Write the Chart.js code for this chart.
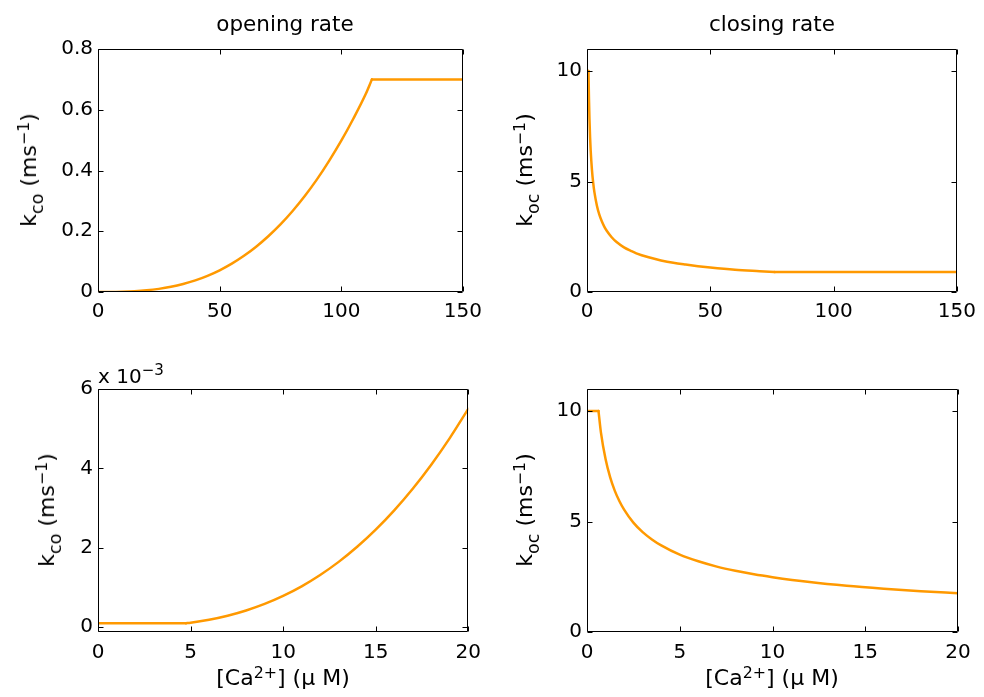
<!DOCTYPE html>
<html>
<head>
<meta charset="utf-8">
<script src="https://cdn.jsdelivr.net/npm/chart.js@4.4.1/dist/chart.umd.min.js"></script>
<style>
  html, body { margin: 0; padding: 0; background: #fff; }
  body { width: 984px; height: 697px; position: relative; overflow: hidden; font-family: "DejaVu Sans", sans-serif; color: #000; }
  canvas { position: absolute; }
  .t { position: absolute; white-space: nowrap; line-height: 1; }
  .c { transform: translateX(-50%); }
  .r { transform: translate(-50%, -50%) rotate(-90deg); }
  .sub { font-size: 0.8em; position: relative; top: 0.42em; }
  .sup { font-size: 0.72em; position: relative; top: -0.45em; }
</style>
</head>
<body>
<canvas id="tl" width="490" height="345" style="left:0;top:0"></canvas>
<canvas id="tr" width="494" height="345" style="left:490px;top:0"></canvas>
<canvas id="bl" width="490" height="352" style="left:0;top:345px"></canvas>
<canvas id="br" width="494" height="352" style="left:490px;top:345px"></canvas>

<div class="t c" style="left:285px;top:13px;font-size:21.5px">opening rate</div>
<div class="t c" style="left:772px;top:13px;font-size:21.5px">closing rate</div>

<div class="t r" style="left:29px;top:170px;font-size:22px">k<span class="sub">co</span> (ms<span class="sup">−1</span>)</div>
<div class="t r" style="left:525px;top:170px;font-size:22px">k<span class="sub">oc</span> (ms<span class="sup">−1</span>)</div>
<div class="t r" style="left:47px;top:510px;font-size:22px">k<span class="sub">co</span> (ms<span class="sup">−1</span>)</div>
<div class="t r" style="left:525px;top:510px;font-size:22px">k<span class="sub">oc</span> (ms<span class="sup">−1</span>)</div>

<div class="t c" style="left:283px;top:667px;font-size:22px">[Ca<span class="sup">2+</span>] (μ M)</div>
<div class="t c" style="left:772px;top:667px;font-size:22px">[Ca<span class="sup">2+</span>] (μ M)</div>

<div class="t" style="left:98px;top:366px;font-size:20px">x 10<span class="sup" style="font-size:0.75em;top:-0.55em">−3</span></div>

<script>
// ---- data ----
// top-left: opening rate, full range
const openFullX = [0, 5, 10, 15, 20, 25, 30, 35, 40, 45, 50, 55, 60, 65, 70, 75, 80, 85, 90, 95, 100, 105, 110, 112.6, 120, 130, 140, 150];
const openFullY = [0.0001, 0.00011, 0.00079, 0.00246, 0.0055, 0.0103, 0.0171, 0.0264, 0.0383, 0.0533, 0.0715, 0.0934, 0.1192, 0.1492, 0.1836, 0.2226, 0.2668, 0.316, 0.3707, 0.4317, 0.498, 0.5713, 0.651, 0.70, 0.70, 0.70, 0.70, 0.70];
// top-right: closing rate, full range
const closeFullX = [0, 0.6, 0.8, 1, 1.25, 1.5, 2, 2.5, 3, 4, 5, 6, 7, 8, 10, 12, 15, 18, 20, 25, 30, 35, 40, 45, 50, 60, 70, 76, 100, 125, 150];
const closeFullY = [10, 10, 8.75, 7.83, 7.0, 6.39, 5.54, 4.95, 4.52, 3.92, 3.5, 3.2, 2.96, 2.77, 2.48, 2.26, 2.02, 1.85, 1.75, 1.57, 1.43, 1.32, 1.24, 1.17, 1.11, 1.01, 0.94, 0.9, 0.9, 0.9, 0.9];
// bottom-left: opening rate, 0-20 uM
const openZoomX = [0, 4.75, 5, 6, 7, 8, 9, 10, 11, 12, 13, 14, 15, 16, 17, 18, 19, 20];
const openZoomY = [0.0001, 0.0001, 0.000113, 0.000189, 0.000291, 0.000423, 0.000588, 0.00079, 0.001031, 0.001316, 0.001646, 0.002026, 0.002458, 0.002945, 0.003489, 0.004095, 0.004764, 0.0055];
// bottom-right: closing rate, 0-20 uM
const closeZoomX = [0, 0.62, 0.75, 1, 1.25, 1.5, 1.75, 2, 2.5, 3, 3.5, 4, 5, 6, 7, 8, 9, 10, 12, 14, 16, 18, 20];
const closeZoomY = [10, 10, 9.04, 7.83, 7.0, 6.39, 5.92, 5.54, 4.95, 4.52, 4.19, 3.92, 3.5, 3.2, 2.96, 2.77, 2.61, 2.48, 2.26, 2.09, 1.96, 1.85, 1.75];

// indices where the curve has a sharp corner (cap / floor reached)
const openFullKinks = [23];
const closeFullKinks = [1, 27];
const openZoomKinks = [1];
const closeZoomKinks = [1];

// tick values
const xTicksFull = [0, 50, 100, 150];
const xTicksZoom = [0, 5, 10, 15, 20];
const yTicksOpenFull = [0, 0.2, 0.4, 0.6, 0.8];
const yTicksOpenZoom = [0, 0.002, 0.004, 0.006];
const yTicksClose = [0, 5, 10];

Chart.defaults.font.family = '"DejaVu Sans", sans-serif';
Chart.defaults.color = '#000';

const boxPlugin = {
  id: 'matlabBox',
  afterDatasetsDraw(chart) {
    const ctx = chart.ctx, a = chart.chartArea;
    const xs = chart.scales.x, ys = chart.scales.y;
    ctx.save();
    ctx.strokeStyle = '#000';
    ctx.lineWidth = 1;
    ctx.beginPath();
    const L = Math.round(a.left) + 0.5, R = Math.round(a.right) - 0.5;
    const T = Math.round(a.top) + 0.5, B = Math.round(a.bottom) - 0.5;
    ctx.rect(L, T, R - L, B - T);
    const tl = 5;
    xs.ticks.forEach(t => {
      const p = Math.round(xs.getPixelForValue(t.value)) + 0.5;
      ctx.moveTo(p, B); ctx.lineTo(p, B - tl);
      ctx.moveTo(p, T); ctx.lineTo(p, T + tl);
    });
    ys.ticks.forEach(t => {
      const p = Math.round(ys.getPixelForValue(t.value)) + 0.5;
      ctx.moveTo(L, p); ctx.lineTo(L + tl, p);
      ctx.moveTo(R, p); ctx.lineTo(R - tl, p);
    });
    ctx.stroke();
    ctx.restore();
  }
};

function splitAt(points, kinks) {
  const cuts = [0].concat(kinks, [points.length - 1]);
  const parts = [];
  for (let i = 0; i < cuts.length - 1; i++) parts.push(points.slice(cuts[i], cuts[i + 1] + 1));
  return parts;
}

function makePanel(id, xs, ys, kinks, xr, yr, xt, yt, fmt, pad, yW, xH, xPad) {
  const pts = xs.map((x, i) => ({ x: x, y: ys[i] }));
  const datasets = splitAt(pts, kinks).map(seg => ({
    data: seg, borderColor: 'rgb(255,153,0)', borderWidth: 2.5, pointRadius: 0,
    cubicInterpolationMode: 'monotone', fill: false, borderCapStyle: 'round', borderJoinStyle: 'round'
  }));
  new Chart(document.getElementById(id), {
    type: 'line',
    data: { datasets: datasets },
    options: {
      responsive: false, animation: false, devicePixelRatio: 1,
      layout: { padding: pad },
      plugins: { legend: { display: false }, tooltip: { enabled: false }, title: { display: false } },
      scales: {
        x: {
          type: 'linear', min: xr[0], max: xr[1],
          grid: { display: false, drawTicks: false, tickLength: 0 },
          border: { display: false },
          afterBuildTicks: s => { s.ticks = xt.map(v => ({ value: v })); },
          afterFit: s => { s.height = xH; },
          ticks: { font: { size: 20 }, padding: xPad, maxRotation: 0, autoSkip: false, callback: v => String(v) }
        },
        y: {
          type: 'linear', min: yr[0], max: yr[1],
          grid: { display: false, drawTicks: false, tickLength: 0 },
          border: { display: false },
          afterBuildTicks: s => { s.ticks = yt.map(v => ({ value: v })); },
          afterFit: s => { s.width = yW; },
          ticks: { font: { size: 20 }, padding: 5, autoSkip: false, callback: fmt }
        }
      }
    },
    plugins: [boxPlugin]
  });
}

const plain = v => String(v);
const oneDec = v => (v === 0 ? '0' : v.toFixed(1));
const milli = v => String(Math.round(v * 1000));

makePanel('tl', openFullX, openFullY, openFullKinks, [0, 150], [0, 0.8], xTicksFull, yTicksOpenFull, oneDec, { left: 0, top: 49, right: 21, bottom: 0 }, 98, 53, 8);
makePanel('tr', closeFullX, closeFullY, closeFullKinks, [0, 150], [0, 11], xTicksFull, yTicksClose, plain, { left: 0, top: 49, right: 26, bottom: 0 }, 97, 53, 8);
makePanel('bl', openZoomX, openZoomY, openZoomKinks, [0, 20], [-0.00012, 0.006], xTicksZoom, yTicksOpenZoom, milli, { left: 0, top: 44, right: 21, bottom: 0 }, 98, 65, 9);
makePanel('br', closeZoomX, closeZoomY, closeZoomKinks, [0, 20], [0, 11], xTicksZoom, yTicksClose, plain, { left: 0, top: 44, right: 26, bottom: 0 }, 97, 65, 9);
</script>
</body>
</html>
